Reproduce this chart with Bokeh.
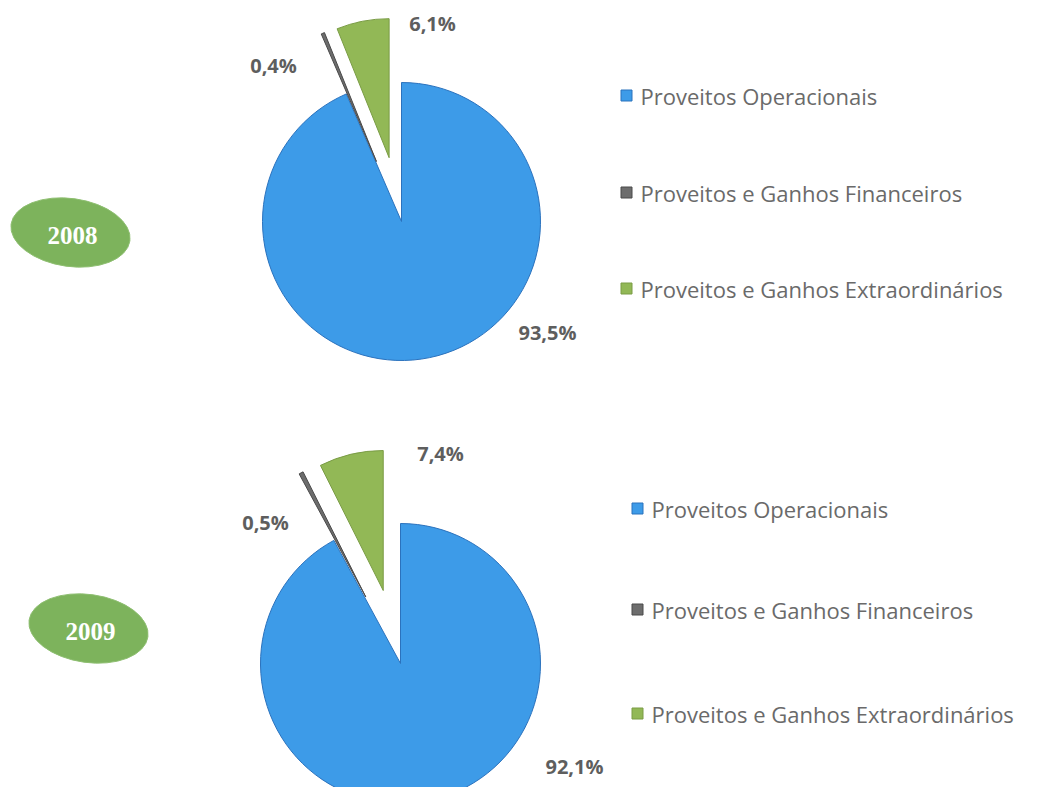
import math
from bokeh.plotting import figure
from bokeh.models import Range1d, ColumnDataSource
from bokeh.core.properties import value
from bokeh.embed import file_html
from bokeh.resources import INLINE

# ---------------- data ----------------
categories = ["Proveitos Operacionais",
              "Proveitos e Ganhos Financeiros",
              "Proveitos e Ganhos Extraordinários"]
years = ["2008", "2009"]
values_2008 = [93.5, 0.4, 6.1]
values_2009 = [92.1, 0.5, 7.4]
series = {"2008": values_2008, "2009": values_2009}

# ---------------- styles / layout ----------------
fill_colors = ["#3d9be8", "#6d6d6d", "#92b856"]
line_colors = ["#2b72bd", "#4a4a4a", "#7a9c45"]
H = 803  # data y = H - image y

layout = {
    "2008": dict(cx=401, cy=221, r=139, explode=[0, 65, 65],
                 labels=[(547, 332), (273, 65), (432, 23)],
                 badge=(70, 232), legend_x=626, legend_y=[95, 192, 288]),
    "2009": dict(cx=400, cy=663, r=140, explode=[0, 75, 75],
                 labels=[(574, 766), (265, 522), (440, 453)],
                 badge=(88, 628), legend_x=637, legend_y=[508, 609, 713]),
}

p = figure(width=1031, height=787, output_backend="svg", toolbar_location=None,
           x_range=Range1d(0, 1031), y_range=Range1d(H - 787, H),
           min_border=0, outline_line_color=None)
p.axis.visible = False
p.grid.visible = False
p.background_fill_color = "white"
p.border_fill_color = "white"

def pct(v):
    return ("%.1f" % v).replace(".", ",") + "%"

for yr in years:
    vals = series[yr]
    L = layout[yr]
    total = sum(vals)
    xs, ys, sa, ea = [], [], [], []
    acc = 0.0
    for v, d in zip(vals, L["explode"]):
        s_cw = acc / total * 360.0
        e_cw = (acc + v) / total * 360.0
        acc += v
        mid = math.radians((s_cw + e_cw) / 2)
        xs.append(L["cx"] + d * math.sin(mid))
        ys.append(H - L["cy"] + d * math.cos(mid))
        sa.append(math.radians(90 - e_cw))
        ea.append(math.radians(90 - s_cw))
    src = ColumnDataSource(dict(x=xs, y=ys, start=sa, end=ea,
                                fill=fill_colors, line=line_colors))
    p.wedge(x="x", y="y", radius=L["r"], start_angle="start", end_angle="end",
            fill_color="fill", line_color="line", line_width=1, source=src)

    # percentage labels
    lsrc = ColumnDataSource(dict(x=[q[0] for q in L["labels"]],
                                 y=[H - q[1] for q in L["labels"]],
                                 t=[pct(v) for v in vals]))
    p.text(x="x", y="y", text="t", source=lsrc, text_align="center",
           text_baseline="middle", text_font=value("Open Sans"),
           text_font_style="bold", text_font_size="20px", text_color="#5e5e5e")

    # year badge
    bx, by = L["badge"]
    p.ellipse(x=[bx], y=[H - by], width=120, height=68, angle=-0.14,
              fill_color="#7db35c", line_color="#8fbf72", line_width=1)
    p.text(x=[bx + 2], y=[H - by - 3], text=[yr], text_align="center",
           text_baseline="middle", text_font=value("Liberation Serif"),
           text_font_style="bold", text_font_size="25px", text_color="white")

    # legend
    lx = L["legend_x"]
    p.scatter(x=[lx] * 3, y=[H - y for y in L["legend_y"]], marker="square",
              size=11, fill_color=fill_colors, line_color=line_colors)
    p.text(x=[lx + 14] * 3, y=[H - y for y in L["legend_y"]], text=categories,
           text_align="left", text_baseline="middle",
           text_font=value("Open Sans"), text_font_size="22px",
           text_color="#6a6a6a")

open("out.html", "w").write(file_html(p, INLINE))
